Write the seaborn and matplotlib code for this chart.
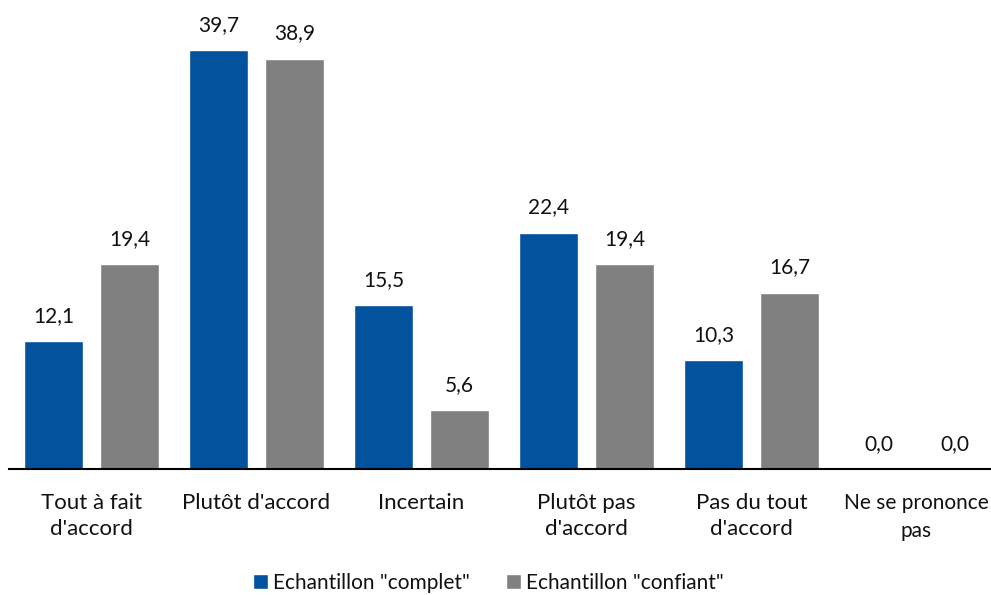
import matplotlib
matplotlib.use("Agg")
import matplotlib.pyplot as plt
import seaborn as sns
import pandas as pd

categories = ["Tout à fait\nd'accord", "Plutôt d'accord", "Incertain",
              "Plutôt pas\nd'accord", "Pas du tout\nd'accord", "Ne se prononce\npas"]
series_names = ['Echantillon "complet"', 'Echantillon "confiant"']
complet = [12.1, 39.7, 15.5, 22.4, 10.3, 0.0]
confiant = [19.4, 38.9, 5.6, 19.4, 16.7, 0.0]
colors = ["#03529E", "#808080"]

df = pd.DataFrame({
    "cat": categories * 2,
    "serie": [series_names[0]] * len(categories) + [series_names[1]] * len(categories),
    "val": complet + confiant,
})

sns.set_theme(style="white")
plt.rcParams['font.family'] = ['Lato', 'DejaVu Sans']
FS = 15

W, H = 991, 595
fig = plt.figure(figsize=(W / 100, H / 100), dpi=100)
left = 9 / W
right = 999 / W
bottom = (H - 469) / H
ymax = 42
height = ymax * 10.55 / H
ax = fig.add_axes([left, bottom, right - left, height])

sns.barplot(data=df, x="cat", y="val", hue="serie", palette=colors,
            width=0.921, gap=0.224, ax=ax, legend=True, saturation=1)

for cont in ax.containers:
    labels = [f"{b.get_height():.1f}".replace(".", ",") for b in cont]
    ax.bar_label(cont, labels=labels, padding=11, fontsize=FS, color="#111111")

ax.set_ylim(0, ymax)
ax.set_xlim(-0.5, 5.5)
ax.set_xlabel("")
ax.set_ylabel("")
ax.set_yticks([])
for s in ["top", "right", "left"]:
    ax.spines[s].set_visible(False)
ax.spines["bottom"].set_color("black")
ax.spines["bottom"].set_linewidth(1.5)
ax.tick_params(axis="x", length=0, pad=17.5, labelsize=16, labelcolor="#111111")
ticklabels = ax.get_xticklabels()
for t in ticklabels:
    t.set_linespacing(1.36)
ticklabels[-1].set_fontsize(15)
ticklabels[-1].set_linespacing(1.45)

ax.legend(loc="center", bbox_to_anchor=(0.493, (H - 583) / H), bbox_transform=fig.transFigure,
          ncol=2, frameon=False, fontsize=FS, handlelength=0.7, handleheight=0.7,
          handletextpad=0.25, columnspacing=1.75, labelcolor="#111111")

fig.savefig("out.png", dpi=100)
